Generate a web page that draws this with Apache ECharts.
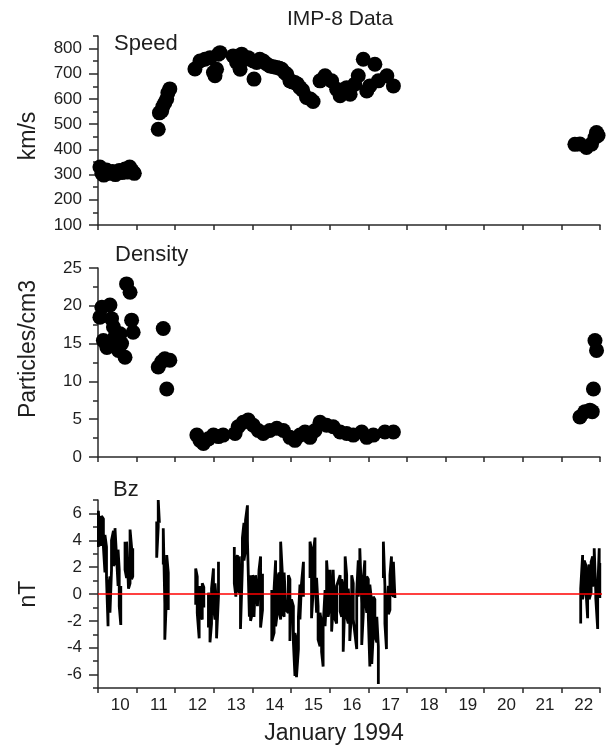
<!DOCTYPE html>
<html><head><meta charset="utf-8">
<script src="https://cdn.jsdelivr.net/npm/echarts@6/dist/echarts.min.js"></script>
<style>html,body{margin:0;padding:0;background:#fff}#c{width:613px;height:746px}</style>
</head><body><div id="c"></div>
<script>
// ---- data ----
const dayLabels = ['10','11','12','13','14','15','16','17','18','19','20','21','22'];

const speedDays = [10.05,10.10,10.15,10.22,10.30,10.38,10.45,10.55,10.62,10.70,10.76,10.82,10.88,10.94,
  11.56,11.59,11.65,11.68,11.73,11.78,11.81,11.86,
  12.51,12.64,12.77,12.90,12.99,13.03,13.07,13.12,13.16,13.50,13.59,13.68,13.72,13.81,13.89,14.02,14.04,14.11,14.19,14.28,14.36,14.45,14.54,14.63,14.70,14.76,14.83,14.89,14.97,15.03,15.10,15.16,15.23,15.30,15.40,15.50,15.57,15.75,15.88,16.05,16.18,16.27,16.44,16.53,16.65,16.74,16.87,16.96,17.04,17.17,17.26,17.48,17.65,
  22.35,22.48,22.65,22.78,22.87,22.91,22.95];
const speedValues = [330,305,298,318,305,312,300,316,308,322,310,330,316,305,
  480,545,553,570,585,600,625,640,
  719,751,758,764,705,692,718,778,784,771,745,718,778,758,764,751,679,745,758,751,740,731,728,725,722,718,705,698,672,668,665,660,645,635,606,600,590,672,692,672,639,613,645,619,659,692,758,632,652,738,672,692,652,
  420,421,408,421,447,467,455];

const densityDays = [10.05,10.10,10.14,10.23,10.31,10.35,10.40,10.44,10.48,10.53,10.57,10.61,10.70,10.74,10.83,10.87,10.91,
  11.56,11.65,11.69,11.73,11.78,11.86,
  12.56,12.64,12.73,12.86,12.99,13.12,13.24,13.55,13.63,13.76,13.89,14.02,14.15,14.28,14.45,14.63,14.80,14.97,15.10,15.23,15.36,15.49,15.62,15.75,15.92,16.09,16.27,16.44,16.61,16.83,16.96,17.13,17.43,17.65,
  22.48,22.61,22.74,22.80,22.83,22.87,22.91];
const densityValues = [18.5,19.8,15.4,14.5,20.1,18.3,17.2,15.9,14.8,14.1,16.3,15.0,13.2,22.9,21.8,18.1,16.5,
  11.9,12.6,17.0,13.0,9.0,12.8,
  2.9,2.2,1.8,2.4,2.9,2.7,2.9,3.1,4.0,4.6,4.9,4.2,3.5,3.1,3.5,3.8,3.5,2.6,2.2,2.9,3.3,2.6,3.5,4.6,4.2,4.0,3.3,3.1,2.9,3.3,2.6,2.9,3.3,3.3,
  5.3,6.0,6.2,6.0,9.0,15.4,14.1];

// Bz: one vertical bar per sample (day, low, high)
const bzDays = [10.01,10.05,10.09,10.14,10.18,10.22,10.26,10.31,10.35,10.40,10.44,10.48,10.52,10.55,10.59,10.70,10.74,10.79,10.83,10.87,10.90,
  11.52,11.56,11.59,11.69,11.73,11.78,11.82,
  12.53,12.57,12.62,12.64,12.70,12.74,12.86,12.90,12.94,12.99,13.03,13.07,13.12,
  13.53,13.57,13.61,13.66,13.69,13.74,13.78,13.82,13.87,13.92,13.95,14.00,14.04,14.08,14.13,14.17,14.21,14.26,
  14.50,14.56,14.60,14.64,14.69,14.73,14.78,14.82,14.87,14.93,14.97,15.01,15.06,15.10,15.14,15.19,15.23,15.27,15.32,
  15.49,15.53,15.58,15.62,15.66,15.70,15.75,15.79,15.83,15.88,15.92,15.96,16.01,16.05,16.09,16.14,16.18,16.27,16.31,16.35,16.40,16.44,16.48,16.52,16.57,16.61,16.70,16.74,16.78,16.83,16.87,16.91,16.96,17.00,17.04,17.09,17.13,17.17,17.22,17.26,
  17.39,17.43,17.47,17.52,17.56,17.60,17.65,17.69,
  22.50,22.55,22.59,22.64,22.68,22.72,22.77,22.81,22.85,22.89,22.94,22.98,22.995];
const bzLow = [3.5,3.8,3.6,3.5,1.6,1.2,-2.4,-1.4,1.8,2.1,2.3,2.8,0.6,-0.9,-2.3,1.8,1.2,0.4,0.8,1.1,1.3,
  2.7,5.0,5.3,2.2,-3.4,0.3,-1.2,
  -0.8,-1.4,-3.3,-1.4,-1.9,-1.0,-2.5,-3.6,-2.2,-1.0,-1.9,-3.3,-0.2,
  0.8,-0.2,0.3,0.1,-2.6,2.1,2.5,3.3,4.0,-1.7,-2.0,-1.4,-1.7,-1.8,-0.9,-1.0,-2.5,-1.2,
  -3.5,-2.9,-2.4,-1.5,-1.2,-1.9,-1.4,-1.7,-1.2,-1.4,-3.5,-3.5,-3.6,-6.1,-6.2,-4.1,-1.9,-1.9,-0.2,
  1.2,-1.8,0.6,1.3,-1.4,-3.4,-3.9,-4.3,-5.4,-2.4,-0.2,-1.7,-0.9,-2.8,-0.9,-1.9,-2.2,-1.3,-1.7,-4.3,0.1,-1.7,-2.2,-3.5,-1.2,-1.9,-4.1,-0.2,0.8,-3.8,-1.5,-0.2,-1.4,-1.7,-5.4,-5.2,-2.9,-3.1,-3.6,-6.7,
  1.2,-2.2,-4.1,-1.5,-1.2,0.1,-0.2,-0.3,
  -2.2,-0.4,0.4,0.1,-1.8,-0.4,0.1,0.6,0.8,-0.3,-2.6,0.7,-0.3];
const bzHigh = [6.2,6.1,5.8,5.6,4.4,3.5,0.3,1.3,4.0,4.7,4.9,5.0,3.3,1.8,0.6,3.9,3.9,4.0,4.8,3.5,3.4,
  5.4,7.0,7.0,4.9,-0.7,2.9,1.6,
  1.9,1.3,-0.7,0.6,0.8,0.5,0.1,-0.9,0.4,1.9,0.8,-0.7,2.4,
  3.5,2.5,2.9,2.8,0.1,4.2,5.3,5.5,6.6,0.9,1.4,1.4,1.1,1.4,1.3,1.8,2.8,1.5,
  0.3,0.4,2.5,1.1,1.6,3.9,1.2,1.6,1.6,1.4,1.1,-0.4,-0.9,-2.9,-3.4,-1.7,0.7,0.8,2.4,
  3.9,3.3,3.2,4.2,1.2,-0.9,-1.4,-2.2,-2.4,0.3,2.5,0.8,1.8,-0.7,1.8,1.9,0.6,1.4,1.1,0.6,2.8,1.4,0.4,-0.9,1.4,0.8,0.2,2.5,3.4,-0.7,1.1,2.5,1.3,1.1,0.7,-0.7,-0.2,-0.4,-1.7,-3.9,
  3.9,0.6,-1.3,0.6,1.4,2.8,2.4,2.3,
  0.4,2.9,2.5,2.1,0.8,2.2,2.4,2.8,3.4,0.2,0.2,3.4,2.3];

const zeroLineDays = [10, 23.35];
const zeroLineValue = 0;

// ---- build ----
const FONT = 'Liberation Sans, Arial, sans-serif';
const AX = '#2a2a2a';
const speedData = speedDays.map((d,i)=>[d, speedValues[i]]);
const densityData = densityDays.map((d,i)=>[d, densityValues[i]]);
const bzData = [];
for (let i=0;i<bzDays.length;i++){
  if (i>0 && bzDays[i]-bzDays[i-1] > 0.09) bzData.push([bzDays[i], null]);
  if (i%2===0){ bzData.push([bzDays[i], bzLow[i]]); bzData.push([bzDays[i], bzHigh[i]]); }
  else { bzData.push([bzDays[i], bzHigh[i]]); bzData.push([bzDays[i], bzLow[i]]); }
}
const zeroData = zeroLineDays.map(d=>[d, zeroLineValue]);

const lineStyle = {color: AX, width: 1.5};
function xVal(g){
  return {gridIndex:g, type:'value', min:10, max:23, interval:1,
    axisLine:{show:true, onZero:false, lineStyle}, axisTick:{show:true, length:5, lineStyle},
    axisLabel:{show:false}, splitLine:{show:false}};
}
function yMain(g, min, max, interval, name, majors, pad){
  return {gridIndex:g, type:'value', min, max, interval, position:'left',
    axisLine:{show:true, onZero:false, lineStyle},
    axisTick:{show:true, length:9, lineStyle, customValues: majors},
    axisLabel:{show:true, customValues: majors, margin:16, fontSize:17, fontFamily:FONT, color:'#1e1e1e',
      formatter: v => majors.indexOf(v) >= 0 ? String(v) : ''},
    splitLine:{show:false},
    name, nameLocation:'middle', nameGap:58,
    nameTextStyle:{fontSize:23, fontFamily:FONT, color:'#1e1e1e', padding: pad}};
}
function yMinor(g, min, max, interval){
  return {gridIndex:g, type:'value', min, max, interval, position:'left', offset:0,
    axisLine:{show:false}, axisTick:{show:true, length:5, lineStyle},
    axisLabel:{show:false}, splitLine:{show:false}};
}

const option = {
  animation:false,
  backgroundColor:'#fff',
  textStyle:{fontFamily:FONT},
  grid:[
    {left:98, right:13, top:36, height:189},
    {left:98, right:13, top:268, height:189},
    {left:98, right:13, top:500, height:189}
  ],
  xAxis:[
    xVal(0), xVal(1), xVal(2),
    {gridIndex:2, type:'category', data:dayLabels, boundaryGap:true, position:'bottom', offset:0,
      axisLine:{show:false}, axisTick:{show:false}, splitLine:{show:false},
      axisLabel:{show:true, interval:0, margin:9, fontSize:17, fontFamily:FONT, color:'#1e1e1e', padding:[0,0,0,6]},
      name:'January 1994', nameLocation:'middle', nameGap:34,
      nameTextStyle:{fontSize:23, fontFamily:FONT, color:'#1e1e1e', padding:[0,30,0,0]}}
  ],
  yAxis:[
    yMain(0, 100, 850, 100, 'km/s', [100,200,300,400,500,600,700,800], [0,11,0,0]),
    yMain(1, 0, 25, 5, 'Particles/cm3', [0,5,10,15,20,25], [0,0,0,27]),
    yMain(2, -7, 7, 1, 'nT', [-6,-4,-2,0,2,4,6], [0,0,0,0]),
    yMinor(0, 100, 850, 50),
    yMinor(1, 0, 25, 2.5),
    yMinor(2, -7, 7, 1)
  ],
  graphic:[
    {type:'text', x:340, y:9, style:{text:'IMP-8 Data', fontSize:21, fontFamily:FONT, fill:'#1e1e1e', align:'center', verticalAlign:'top'}},
    {type:'text', x:114, y:33, style:{text:'Speed', fontSize:22, fontFamily:FONT, fill:'#1e1e1e', align:'left', verticalAlign:'top'}},
    {type:'text', x:115, y:244, style:{text:'Density', fontSize:22, fontFamily:FONT, fill:'#1e1e1e', align:'left', verticalAlign:'top'}},
    {type:'text', x:113, y:479, style:{text:'Bz', fontSize:22, fontFamily:FONT, fill:'#1e1e1e', align:'left', verticalAlign:'top'}}
  ],
  series:[
    {type:'scatter', xAxisIndex:0, yAxisIndex:0, data:speedData, symbol:'circle', symbolSize:15, itemStyle:{color:'#000', opacity:1}},
    {type:'scatter', xAxisIndex:1, yAxisIndex:1, data:densityData, symbol:'circle', symbolSize:15, itemStyle:{color:'#000', opacity:1}},
    {type:'line', xAxisIndex:2, yAxisIndex:2, data:bzData, symbol:'none', connectNulls:false,
      lineStyle:{color:'#000', width:2.8}},
    {type:'line', xAxisIndex:2, yAxisIndex:2, data:zeroData, symbol:'none', clip:false, z:5,
      lineStyle:{color:'#ff0000', width:1.3}}
  ]
};
echarts.init(document.getElementById('c')).setOption(option);
</script></body></html>
